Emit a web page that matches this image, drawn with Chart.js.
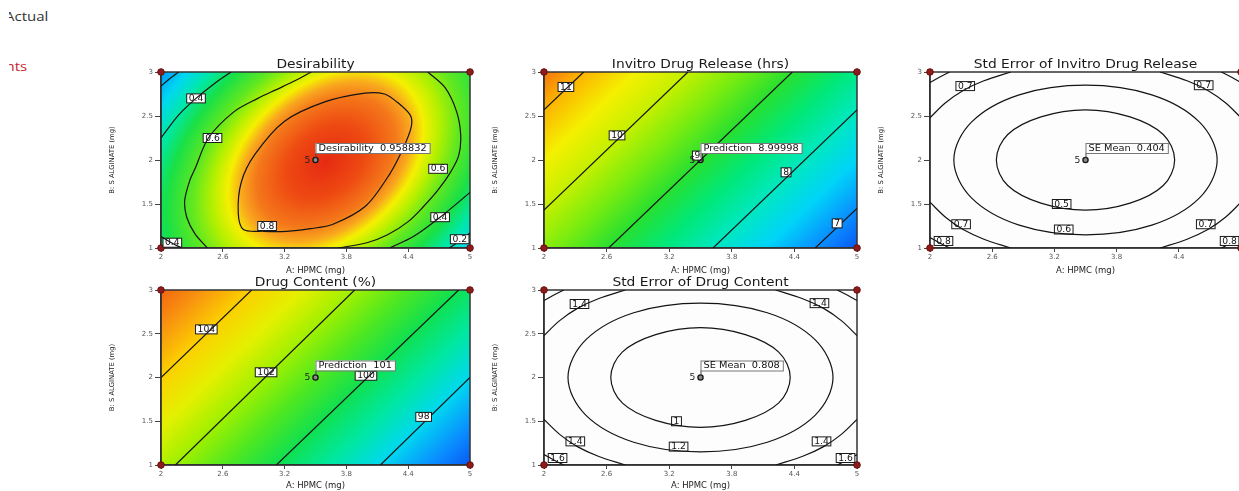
<!DOCTYPE html>
<html>
<head>
<meta charset="utf-8">
<title>Contour plots</title>
<script src="https://cdn.jsdelivr.net/npm/chart.js@4.4.1/dist/chart.umd.min.js"></script>
<style>
  html, body { margin: 0; padding: 0; background: #fff; width: 1239px; height: 491px; overflow: hidden; position: relative; }
  canvas { position: absolute; }
  #sidebar { position: absolute; left: 9px; top: 0; width: 100px; height: 90px; overflow: hidden; }
  .side { position: absolute; font: 12.5px 'Open Sans', sans-serif; white-space: nowrap; line-height: 16px; }
</style>
</head>
<body>
<div id="sidebar">
  <div class="side" style="left:-4px; top:9px; color:#333; transform:scaleX(1.2); transform-origin:left center;">Actual</div>
  <div class="side" style="right:82px; top:59px; color:#c8252c; transform:scaleX(1.2); transform-origin:right center;">Design Points</div>
</div>
<canvas id="desirability"></canvas>
<canvas id="release"></canvas>
<canvas id="seRelease"></canvas>
<canvas id="content"></canvas>
<canvas id="seContent"></canvas>
<script>
// axes shared by all panels
const xTicks = [2, 2.6, 3.2, 3.8, 4.4, 5];
const yTicks = [1, 1.5, 2, 2.5, 3];
const designPoints = [[2, 1], [2, 3], [5, 1], [5, 3]];
const centerPoint = [3.5, 2];
const centerRuns = '5';

// Desirability - contour lines (x = HPMC, y = S alginate)
// a line whose last point repeats its first one is a closed contour
const desContours = [
  [[2.00, 2.84], [2.08, 2.92], [2.17, 3.00]],
  [[2.00, 2.25], [2.17, 2.51], [2.34, 2.70], [2.52, 2.87], [2.68, 3.00]],
  [[2.00, 1.13], [2.10, 1.06], [2.20, 1.00]],
  [[2.45, 1.00], [2.33, 1.16], [2.25, 1.35], [2.23, 1.54], [2.28, 1.77], [2.33, 1.90], [2.46, 2.25], [2.71, 2.55], [2.94, 2.70], [3.12, 2.80], [3.30, 2.90], [3.46, 3.00]],
  [[2.80, 1.21], [3.00, 1.19], [3.22, 1.19], [3.45, 1.22], [3.67, 1.27], [3.99, 1.48], [4.22, 1.84], [4.35, 2.13], [4.43, 2.38], [4.42, 2.51], [4.29, 2.66], [4.17, 2.75], [3.98, 2.76], [3.59, 2.66], [3.20, 2.44], [2.91, 2.06], [2.78, 1.75], [2.75, 1.40], [2.80, 1.21]],
  [[4.59, 3.00], [4.76, 2.82], [4.87, 2.55], [4.91, 2.28], [4.89, 2.05], [4.81, 1.86], [4.69, 1.66], [4.54, 1.46], [4.40, 1.30], [4.20, 1.15], [4.00, 1.06], [3.72, 1.00]],
  [[4.22, 1.00], [4.45, 1.13], [4.71, 1.35], [5.00, 1.63]],
  [[4.80, 1.00], [4.90, 1.08], [5.00, 1.17]]
];
const desLabels = [[2.34, 2.70, '0.4'], [2.50, 2.25, '0.6'], [3.03, 1.25, '0.8'], [4.69, 1.90, '0.6'], [4.71, 1.35, '0.4'], [4.90, 1.10, '0.2'], [2.11, 1.06, '0.4']];
const desValue = 0.958832;

// Invitro Drug Release (hrs)
const idrContours = [
  [[2.00, 2.57], [2.38, 3.00]],
  [[2.00, 1.43], [3.38, 3.00]],
  [[2.62, 1.00], [4.38, 3.00]],
  [[3.62, 1.00], [5.00, 2.57]],
  [[4.60, 1.00], [5.00, 1.45]]
];
const idrLabels = [[2.21, 2.83, '11'], [2.70, 2.28, '10'], [3.47, 2.05, '9'], [4.32, 1.86, '8'], [4.81, 1.28, '7']];
const idrPrediction = 8.99998;

// Drug Content (%)
const dcContours = [
  [[2.00, 2.00], [2.88, 3.00]],
  [[2.14, 1.00], [3.88, 3.00]],
  [[3.12, 1.00], [4.89, 3.00]],
  [[4.13, 1.00], [5.00, 2.00]]
];
const dcLabels = [[2.44, 2.55, '104'], [3.02, 2.06, '102'], [3.99, 2.02, '100'], [4.55, 1.55, '98']];
const dcPrediction = 101;

// Std error plots: both show the same rings, only the levels differ
const seContours = [
  [[4.36, 2.00], [4.25, 2.29], [3.93, 2.49], [3.50, 2.57], [3.07, 2.49], [2.75, 2.29], [2.64, 2.00], [2.75, 1.71], [3.07, 1.51], [3.50, 1.43], [3.93, 1.51], [4.25, 1.71], [4.36, 2.00]],
  [[4.77, 2.00], [4.60, 2.43], [4.14, 2.74], [3.50, 2.85], [2.86, 2.74], [2.40, 2.43], [2.23, 2.00], [2.40, 1.57], [2.86, 1.26], [3.50, 1.15], [4.14, 1.26], [4.60, 1.57], [4.77, 2.00]],
  [[2.00, 2.48], [2.15, 2.65], [2.32, 2.79], [2.52, 2.90], [2.78, 3.00]],
  [[4.22, 3.00], [4.48, 2.90], [4.68, 2.79], [4.85, 2.65], [5.00, 2.48]],
  [[2.00, 1.52], [2.15, 1.35], [2.32, 1.21], [2.52, 1.10], [2.78, 1.00]],
  [[4.22, 1.00], [4.48, 1.10], [4.68, 1.21], [4.85, 1.35], [5.00, 1.52]],
  [[2.00, 2.88], [2.09, 2.94], [2.19, 3.00]],
  [[4.81, 3.00], [4.91, 2.94], [5.00, 2.88]],
  [[2.00, 1.12], [2.09, 1.06], [2.19, 1.00]],
  [[4.81, 1.00], [4.91, 1.06], [5.00, 1.12]]
];
const seLabelPos = [[2.34, 2.84], [4.64, 2.85], [3.27, 1.50], [3.29, 1.21], [2.30, 1.27], [4.66, 1.27], [2.13, 1.08], [4.89, 1.08]];
const seIdrLevels = ['0.7', '0.7', '0.5', '0.6', '0.7', '0.7', '0.8', '0.8'];
const seDcLevels = ['1.4', '1.4', '1', '1.2', '1.4', '1.4', '1.6', '1.6'];
const seIdrMean = 0.404;
const seDcMean = 0.808;

const FONT = 'DejaVu Sans';
const STRETCH = 1.15;

function stretchText(ctx, text, x, y, size, color, align) {
  ctx.save();
  ctx.font = size + 'px "' + FONT + '"';
  ctx.fillStyle = color;
  ctx.textAlign = align || 'center';
  ctx.textBaseline = 'middle';
  ctx.translate(x, y);
  ctx.scale(STRETCH, 1);
  ctx.fillText(text, 0, 0);
  ctx.restore();
}

function textWidth(ctx, text, size) {
  ctx.save();
  ctx.font = size + 'px "' + FONT + '"';
  const w = ctx.measureText(text).width * STRETCH;
  ctx.restore();
  return w;
}

function isClosed(line) {
  const a = line[0], b = line[line.length - 1];
  return line.length > 3 && a[0] === b[0] && a[1] === b[1];
}

function linearShade(chart, s) {
  const {ctx, chartArea: a, scales: {x, y}} = chart;
  const kx = s.gx / (x.getPixelForValue(1) - x.getPixelForValue(0));
  const ky = s.gy / (y.getPixelForValue(1) - y.getPixelForValue(0));
  const g2 = kx * kx + ky * ky;
  const cx = x.getPixelForValue(s.x0), cy = y.getPixelForValue(s.y0);
  const vmin = s.stops[0][0], vmax = s.stops[s.stops.length - 1][0];
  const at = v => [cx + (v - s.v0) * kx / g2, cy + (v - s.v0) * ky / g2];
  const p1 = at(vmin), p2 = at(vmax);
  const grad = ctx.createLinearGradient(p1[0], p1[1], p2[0], p2[1]);
  s.stops.forEach(st => grad.addColorStop((st[0] - vmin) / (vmax - vmin), st[1]));
  ctx.fillStyle = grad;
  ctx.fillRect(a.left, a.top, a.width, a.height);
}

function radialShade(chart, s) {
  const {ctx, scales: {x, y}} = chart;
  ctx.translate(x.getPixelForValue(s.x0), y.getPixelForValue(s.y0));
  ctx.rotate(s.angle * Math.PI / 180);
  ctx.scale(s.a, s.b);
  const grad = ctx.createRadialGradient(0, 0, 0, 0, 0, s.rMax);
  s.stops.forEach(st => grad.addColorStop(st[0] / s.rMax, st[1]));
  ctx.fillStyle = grad;
  ctx.fillRect(-20, -20, 40, 40);
}

function panelPlugin(p) {
  const closed = p.contours.map(isClosed);
  return {
    id: 'panel',
    afterDatasetUpdate(chart, args) {
      // let the line element smooth closed contours all the way round
      const line = args.meta.dataset;
      if (!closed[args.index] || !line) return;
      line._loop = true;
      line._fullLoop = true;
      line._pointsUpdated = false;
      delete line._segments;
      line._path = undefined;
      line.updateControlPoints(chart.chartArea, 'x');
    },
    beforeDraw(chart) {
      const {ctx, chartArea: a} = chart;
      ctx.save();
      ctx.beginPath();
      ctx.rect(a.left, a.top, a.width, a.height);
      ctx.clip();
      if (p.shade.type === 'linear') linearShade(chart, p.shade);
      else if (p.shade.type === 'radial') radialShade(chart, p.shade);
      else { ctx.fillStyle = p.shade.color; ctx.fillRect(a.left, a.top, a.width, a.height); }
      ctx.restore();
    },
    beforeDatasetsDraw(chart) {
      const {ctx, chartArea: a} = chart;
      ctx.save();
      ctx.strokeStyle = '#333';
      ctx.lineWidth = 1.5;
      ctx.strokeRect(a.left, a.top, a.width, a.height);
      ctx.restore();
    },
    afterDatasetDraw(chart, args) {
      // contour labels sit over the lines but under the design points
      if (args.index !== p.contours.length - 1) return;
      const {ctx, chartArea: a, scales: {x, y}} = chart;
      ctx.save();
      ctx.beginPath();
      ctx.rect(a.left, a.top, a.width, a.height);
      ctx.clip();
      p.labels.forEach(l => {
        const px = x.getPixelForValue(l[0]), py = y.getPixelForValue(l[1]);
        const w = textWidth(ctx, l[2], 8) + 4;
        ctx.fillStyle = '#fff';
        ctx.fillRect(px - w / 2, py - 4.5, w, 9);
        ctx.strokeStyle = '#1a1a1a';
        ctx.lineWidth = 1;
        ctx.strokeRect(px - w / 2, py - 4.5, w, 9);
        stretchText(ctx, l[2], px, py + 0.5, 8, '#111');
      });
      ctx.restore();
    },
    afterDatasetsDraw(chart) {
      const {ctx, scales: {x, y}} = chart;
      const px = x.getPixelForValue(centerPoint[0]), py = y.getPixelForValue(centerPoint[1]);
      // flag with the predicted value
      const w = textWidth(ctx, p.flag, 8.5) + 6;
      const top = py - 17, h = 10;
      ctx.save();
      ctx.strokeStyle = '#444';
      ctx.lineWidth = 1;
      ctx.beginPath();
      ctx.moveTo(px + 0.5, py - 2);
      ctx.lineTo(px + 0.5, top + h);
      ctx.stroke();
      ctx.fillStyle = '#fff';
      ctx.fillRect(px, top, w, h);
      ctx.strokeStyle = '#777';
      ctx.strokeRect(px + 0.5, top + 0.5, w, h);
      ctx.restore();
      stretchText(ctx, p.flag, px + 3, top + h / 2 + 0.5, 8.5, '#111', 'left');
      stretchText(ctx, centerRuns, px - 8, py + 0.5, 8, '#222');
    },
    afterDraw(chart) {
      const {ctx, chartArea: a} = chart;
      stretchText(ctx, p.title, (a.left + a.right) / 2, a.top - 7, 12, '#1a1a1a');
    }
  };
}

function axes(xTitlePad) {
  return {
    x: {
      type: 'linear', min: 2, max: 5,
      afterBuildTicks: s => { s.ticks = xTicks.map(v => ({value: v})); },
      afterFit: s => { s.height = 32; },
      ticks: { font: {family: FONT, size: 7}, color: '#555', padding: 1, autoSkip: false, maxRotation: 0, callback: v => String(v) },
      grid: { display: true, drawOnChartArea: false, drawTicks: true, tickLength: 4, color: '#444', tickColor: '#444' },
      border: { display: true, color: '#333', width: 1.5 },
      title: { display: true, text: 'A: HPMC (mg)', font: {family: FONT, size: 8.5}, color: '#222', padding: {top: 0, bottom: xTitlePad} }
    },
    y: {
      type: 'linear', min: 1, max: 3,
      afterBuildTicks: s => { s.ticks = yTicks.map(v => ({value: v})); },
      afterFit: s => { s.width = 56; },
      ticks: { font: {family: FONT, size: 7}, color: '#555', padding: 2, autoSkip: false, callback: v => String(v) },
      grid: { display: true, drawOnChartArea: false, drawTicks: true, tickLength: 6, color: '#444', tickColor: '#444' },
      border: { display: true, color: '#333', width: 1.5 },
      title: { display: true, text: 'B: S ALGINATE (mg)', font: {family: FONT, size: 6.8}, color: '#222', padding: {top: 3.5, bottom: 0} }
    }
  };
}

function makePanel(p) {
  const canvas = document.getElementById(p.id);
  canvas.width = p.w;
  canvas.height = p.h;
  canvas.style.left = p.left + 'px';
  canvas.style.top = p.top + 'px';
  const datasets = p.contours.map(line => ({
    data: (isClosed(line) ? line.slice(0, -1) : line).map(pt => ({x: pt[0], y: pt[1]})),
    showLine: true, pointRadius: 0, borderColor: '#141414', borderWidth: 1.2, tension: p.tension, fill: false
  }));
  datasets.push({
    data: designPoints.map(pt => ({x: pt[0], y: pt[1]})),
    showLine: false, pointRadius: 3.3, pointBackgroundColor: '#8c1c1c', pointBorderColor: '#6a0f0f', pointBorderWidth: 1, clip: false
  });
  datasets.push({
    data: [{x: centerPoint[0], y: centerPoint[1]}],
    showLine: false, pointRadius: 2.6, pointBackgroundColor: '#8a8a8a', pointBorderColor: '#151515', pointBorderWidth: 1.3, clip: false
  });
  return new Chart(canvas, {
    type: 'scatter',
    data: { datasets },
    options: {
      responsive: false, animation: false, events: [],
      layout: { padding: { top: 20, right: 8, bottom: 0, left: 0 } },
      scales: axes(p.xTitlePad),
      plugins: { legend: { display: false }, tooltip: { enabled: false } }
    },
    plugins: [panelPlugin(p)]
  });
}

const desShade = {
  type: 'radial', x0: 3.6, y0: 1.98, angle: -40, a: 100, b: 70, rMax: 3.2,
  stops: [[0, '#e62a12'], [0.45, '#ee4a12'], [0.78, '#f4781a'], [0.95, '#f9a81e'], [1.1, '#f4f000'], [1.28, '#b4f000'],
          [1.5, '#60e820'], [1.8, '#18e048'], [2.05, '#00e8a8'], [2.3, '#00d8f0'], [2.65, '#0088ff'], [3.2, '#0040f0']]
};
const idrShade = {
  type: 'linear', x0: 3.5, y0: 2, v0: 9, gx: -1.0, gy: 0.883,
  stops: [[6.5, '#0848f0'], [7.0, '#0a8cff'], [7.5, '#00d4f8'], [8.0, '#00e8c0'], [8.5, '#00e878'], [9.0, '#28e030'],
          [9.5, '#78ec10'], [10.0, '#c4f000'], [10.5, '#f4f000'], [11.0, '#fcb400'], [11.5, '#f46010']]
};
const dcShade = {
  type: 'linear', x0: 3.5, y0: 2, v0: 101, gx: -2.0, gy: 1.75,
  stops: [[96, '#0848f0'], [97, '#0a8cff'], [98, '#00d8f0'], [99, '#00e8a0'], [100, '#10e050'], [101, '#50e820'],
          [102, '#a0f000'], [103, '#e4f000'], [104, '#fcd000'], [105, '#f89010'], [106, '#f05810']]
};
const plainShade = { type: 'plain', color: '#fdfdfd' };

makePanel({ id: 'desirability', left: 105, top: 52, w: 373, h: 228, xTitlePad: 4, title: 'Desirability',
  contours: desContours, tension: 0.3, labels: desLabels, flag: 'Desirability  ' + desValue, shade: desShade });
makePanel({ id: 'release', left: 488, top: 52, w: 377, h: 228, xTitlePad: 4, title: 'Invitro Drug Release (hrs)',
  contours: idrContours, tension: 0, labels: idrLabels, flag: 'Prediction  ' + idrPrediction, shade: idrShade });
makePanel({ id: 'seRelease', left: 874, top: 52, w: 375, h: 228, xTitlePad: 4, title: 'Std Error of Invitro Drug Release',
  contours: seContours, tension: 0.35, labels: seLabelPos.map((pt, i) => [pt[0], pt[1], seIdrLevels[i]]),
  flag: 'SE Mean  ' + seIdrMean, shade: plainShade });
makePanel({ id: 'content', left: 105, top: 270, w: 373, h: 227, xTitlePad: 6, title: 'Drug Content (%)',
  contours: dcContours, tension: 0, labels: dcLabels, flag: 'Prediction  ' + dcPrediction, shade: dcShade });
makePanel({ id: 'seContent', left: 488, top: 270, w: 377, h: 227, xTitlePad: 6, title: 'Std Error of Drug Content',
  contours: seContours, tension: 0.35, labels: seLabelPos.map((pt, i) => [pt[0], pt[1], seDcLevels[i]]),
  flag: 'SE Mean  ' + seDcMean, shade: plainShade });
</script>
</body>
</html>
